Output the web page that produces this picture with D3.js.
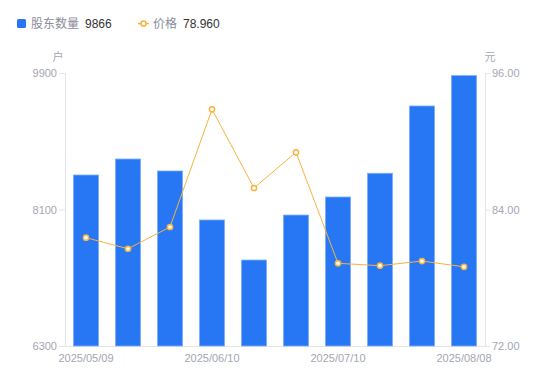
<!DOCTYPE html>
<html>
<head>
<meta charset="utf-8">
<script src="https://cdn.jsdelivr.net/npm/d3@7"></script>
<style>
  body { margin: 0; background: #fff; font-family: "Liberation Sans", "Noto Sans CJK SC", sans-serif; }
</style>
</head>
<body>
<div id="chart"></div>
<script>
// data
const dates = ["2025/05/09", "2025/05/20", "2025/05/30", "2025/06/10", "2025/06/20",
               "2025/06/30", "2025/07/10", "2025/07/20", "2025/07/31", "2025/08/08"];
const holders = [8555, 8766, 8608, 7962, 7434, 8027, 8265, 8578, 9465, 9866];
const prices = [81.52, 80.55, 82.46, 92.81, 85.89, 89.03, 79.27, 79.06, 79.47, 78.96];
const shownDates = ["2025/05/09", "2025/06/10", "2025/07/10", "2025/08/08"];
const leftTicks = [6300, 8100, 9900];
const rightTicks = [72, 84, 96];

const W = 550, H = 381;
const margin = { top: 73, right: 65, bottom: 35, left: 65 };
const width = W - margin.left - margin.right,
      height = H - margin.top - margin.bottom;

const barColor = "#2777f4";
const lineColor = "#f8b33d";
const axisColor = "#e3e4e8";
const labelColor = "#a3a6b4";
const cjk = "'Noto Sans CJK SC', sans-serif";

const svg = d3.select("#chart").append("svg")
  .attr("width", W).attr("height", H);

// legend
const legend = svg.append("g").attr("font-size", 12);
legend.append("rect").attr("x", 17).attr("y", 19).attr("width", 9).attr("height", 9)
  .attr("rx", 1.5).attr("fill", barColor);
legend.append("text").attr("x", 31).attr("y", 28).attr("fill", "#8a8c99")
  .attr("font-family", cjk).text("股东数量");
legend.append("text").attr("x", 85).attr("y", 28).attr("fill", "#333").text("9866");
legend.append("line").attr("x1", 138).attr("x2", 149).attr("y1", 23.5).attr("y2", 23.5)
  .attr("stroke", lineColor).attr("stroke-width", 1.5);
legend.append("circle").attr("cx", 143.5).attr("cy", 23.5).attr("r", 2.6)
  .attr("fill", "#fff").attr("stroke", lineColor).attr("stroke-width", 1.5);
legend.append("text").attr("x", 153).attr("y", 28).attr("fill", "#8a8c99")
  .attr("font-family", cjk).text("价格");
legend.append("text").attr("x", 183).attr("y", 28).attr("fill", "#333").text("78.960");

const g = svg.append("g").attr("transform", `translate(${margin.left},${margin.top})`);

const x = d3.scaleBand().domain(dates).range([0, width]).paddingInner(0.4).paddingOuter(0.2);
const yL = d3.scaleLinear().domain([6300, 9900]).range([height, 0]);
const yR = d3.scaleLinear().domain([72, 96]).range([height, 0]);

// unit labels
g.append("text").attr("x", -7).attr("y", -12).attr("text-anchor", "middle")
  .attr("font-size", 11).attr("fill", labelColor).attr("font-family", cjk).text("户");
g.append("text").attr("x", width + 5).attr("y", -12).attr("text-anchor", "middle")
  .attr("font-size", 11).attr("fill", labelColor).attr("font-family", cjk).text("元");

// axes
const styleAxis = sel => {
  sel.selectAll("path, line").attr("stroke", axisColor);
  sel.selectAll("text").attr("fill", labelColor).attr("font-size", 11)
    .attr("font-family", "'Liberation Sans', Arial, sans-serif");
};

g.append("g")
  .call(d3.axisLeft(yL).tickValues(leftTicks).tickFormat(d3.format("d"))
    .tickSize(6).tickSizeOuter(0).tickPadding(2))
  .call(styleAxis);

g.append("g").attr("transform", `translate(${width},0)`)
  .call(d3.axisRight(yR).tickValues(rightTicks).tickFormat(d3.format(".2f"))
    .tickSize(5).tickSizeOuter(0).tickPadding(2))
  .call(styleAxis);

g.append("g").attr("transform", `translate(0,${height})`)
  .call(d3.axisBottom(x).tickValues(shownDates).tickSize(0).tickSizeOuter(0).tickPadding(8))
  .call(styleAxis)
  .call(a => a.selectAll(".tick line").remove());

// bars
g.selectAll("rect.bar").data(holders).join("rect")
  .attr("class", "bar")
  .attr("x", (d, i) => x(dates[i]))
  .attr("y", d => yL(d))
  .attr("width", x.bandwidth())
  .attr("height", d => height - yL(d))
  .attr("fill", barColor)
  .attr("stroke", "#7fb0fa")
  .attr("stroke-width", 0.8);

// price line
const line = d3.line()
  .x((d, i) => x(dates[i]) + x.bandwidth() / 2)
  .y(d => yR(d));

g.append("path").datum(prices)
  .attr("fill", "none")
  .attr("stroke", lineColor)
  .attr("stroke-width", 1)
  .attr("d", line);

g.selectAll("circle.pt").data(prices).join("circle")
  .attr("class", "pt")
  .attr("cx", (d, i) => x(dates[i]) + x.bandwidth() / 2)
  .attr("cy", d => yR(d))
  .attr("r", 2.6)
  .attr("fill", "#fff")
  .attr("stroke", lineColor)
  .attr("stroke-width", 1.5);
</script>
</body>
</html>
